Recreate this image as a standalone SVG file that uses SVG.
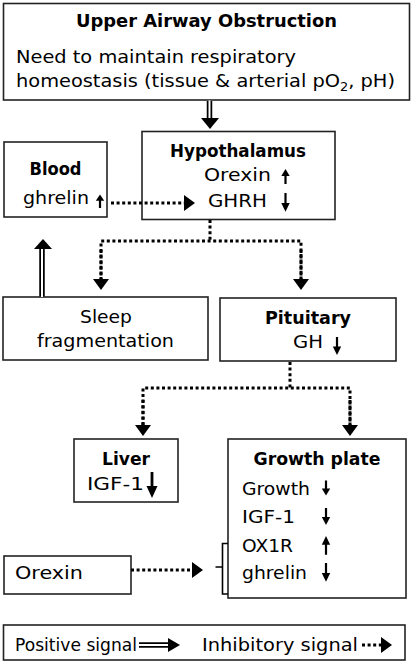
<svg xmlns="http://www.w3.org/2000/svg" width="413" height="663" viewBox="0 0 413 663">
<style>
  .box{fill:#fff;stroke:#222;stroke-width:1.6}
  text{font-family:"DejaVu Sans","Liberation Sans",sans-serif;font-size:18px;fill:#000}
  .b{font-weight:bold}
  .m{text-anchor:middle}
  .dot{fill:none;stroke:#000;stroke-width:3;stroke-dasharray:3 2.6}
  .dblo{fill:none;stroke:#000;stroke-width:5.5}
  .dbli{fill:none;stroke:#fff;stroke-width:2}
  .head{fill:#000;stroke:none}
  .sa{fill:none;stroke:#000;stroke-width:2.2}
</style>
<defs>
  <marker id="dh" markerUnits="userSpaceOnUse" markerWidth="12" markerHeight="16" refX="0" refY="8" orient="auto">
    <path d="M0,0 L11,8 L0,16 Z" fill="#000"/>
  </marker>
  <g id="up"><line x1="0" y1="15" x2="0" y2="5" class="sa"/><path d="M-4.2,7 L0,0 L4.2,7 Z" class="head"/></g>
  <g id="down"><line x1="0" y1="0" x2="0" y2="10" class="sa"/><path d="M-4.2,8 L0,15 L4.2,8 Z" class="head"/></g>
</defs>

<g id="node-upper-airway">
  <rect class="box" x="3.5" y="3.5" width="406" height="96.5"/>
  <text class="b m" x="206.5" y="27" textLength="261" lengthAdjust="spacingAndGlyphs">Upper Airway Obstruction</text>
  <text x="16" y="63" textLength="280" lengthAdjust="spacingAndGlyphs">Need to maintain respiratory</text>
  <text x="16" y="87" textLength="379" lengthAdjust="spacingAndGlyphs">homeostasis (tissue &amp; arterial pO<tspan font-size="12" dy="4">2</tspan><tspan dy="-4">, pH)</tspan></text>
</g>

<g id="node-hypothalamus">
  <rect class="box" x="142" y="131.5" width="193" height="88"/>
  <text class="b m" x="238" y="157" textLength="136" lengthAdjust="spacingAndGlyphs">Hypothalamus</text>
  <text x="204" y="181" textLength="67" lengthAdjust="spacingAndGlyphs">Orexin</text>
  <use href="#up" x="285.5" y="169"/>
  <text x="208" y="207" textLength="59" lengthAdjust="spacingAndGlyphs">GHRH</text>
  <g transform="translate(285.5,193) scale(1,1.25)"><use href="#down"/></g>
</g>

<g id="node-blood">
  <rect class="box" x="4" y="142" width="103" height="75"/>
  <text class="b m" x="55.5" y="175" textLength="52" lengthAdjust="spacingAndGlyphs">Blood</text>
  <text x="23" y="204" textLength="66" lengthAdjust="spacingAndGlyphs">ghrelin</text>
  <g transform="translate(100,194.5) scale(1,0.9)"><use href="#up"/></g>
</g>

<g id="node-sleep">
  <rect class="box" x="3" y="297" width="205" height="63"/>
  <text class="m" x="106" y="323" textLength="52" lengthAdjust="spacingAndGlyphs">Sleep</text>
  <text class="m" x="105.5" y="347" textLength="137" lengthAdjust="spacingAndGlyphs">fragmentation</text>
</g>

<g id="node-pituitary">
  <rect class="box" x="220" y="298" width="176" height="63"/>
  <text class="b m" x="308" y="324" textLength="86" lengthAdjust="spacingAndGlyphs">Pituitary</text>
  <text x="293" y="348" textLength="30" lengthAdjust="spacingAndGlyphs">GH</text>
  <g transform="translate(337,337) scale(1,1.2)"><use href="#down"/></g>
</g>

<g id="node-liver">
  <rect class="box" x="74" y="439" width="104" height="63"/>
  <text class="b m" x="126" y="465" textLength="48" lengthAdjust="spacingAndGlyphs">Liver</text>
  <text x="87" y="490" textLength="57" lengthAdjust="spacingAndGlyphs">IGF-1</text>
  <line x1="152" y1="472" x2="152" y2="488" stroke="#000" stroke-width="2.8"/>
  <path class="head" d="M146.5,486 L152,498 L157.5,486 Z"/>
</g>

<g id="node-growth-plate">
  <rect class="box" x="228" y="439" width="178" height="159"/>
  <text class="b m" x="317" y="465" textLength="127" lengthAdjust="spacingAndGlyphs">Growth plate</text>
  <text x="242" y="495" textLength="68" lengthAdjust="spacingAndGlyphs">Growth</text>
  <use href="#down" x="326" y="480.5"/>
  <text x="242" y="523" textLength="53" lengthAdjust="spacingAndGlyphs">IGF-1</text>
  <g transform="translate(326,508) scale(1,1.13)"><use href="#down"/></g>
  <text x="242" y="552" textLength="51" lengthAdjust="spacingAndGlyphs">OX1R</text>
  <g transform="translate(326,536) scale(1,1.25)"><use href="#up"/></g>
  <text x="242" y="579" textLength="65" lengthAdjust="spacingAndGlyphs">ghrelin</text>
  <g transform="translate(326,563) scale(1,1.25)"><use href="#down"/></g>
</g>

<g id="node-orexin">
  <rect class="box" x="4" y="556" width="127" height="38"/>
  <text x="15" y="579" textLength="68" lengthAdjust="spacingAndGlyphs">Orexin</text>
</g>

<g id="legend">
  <rect class="box" x="3.5" y="625" width="401.5" height="35"/>
  <text x="15" y="651" textLength="122" lengthAdjust="spacingAndGlyphs">Positive signal</text>
  <path class="dblo" d="M139,645 H169"/>
  <path class="dbli" d="M138.5,645 H169.5"/>
  <path class="head" d="M168,638 L180,645 L168,652 Z"/>
  <text x="202" y="651" textLength="156" lengthAdjust="spacingAndGlyphs">Inhibitory signal</text>
  <path class="dot" d="M362,645 H381" marker-end="url(#dh)"/>
</g>

<g id="connectors">
  <!-- top to hypothalamus (positive) -->
  <path class="dblo" d="M209.5,101 V119"/>
  <path class="dbli" d="M209.5,100.5 V119.5"/>
  <path class="head" d="M201,118 L219,118 L210,129 Z"/>
  <!-- sleep to blood (positive) -->
  <path class="dblo" d="M42,296.5 V248"/>
  <path class="dbli" d="M42,297 V247.5"/>
  <path class="head" d="M34,249 L52,249 L43,239 Z"/>
  <!-- blood to hypothalamus (inhibitory) -->
  <path class="dot" d="M111,203 H184" marker-end="url(#dh)"/>
  <!-- hypothalamus branch -->
  <path class="dot" d="M210,220 V241"/>
  <path class="dot" d="M101,280 V241 H301 V280"/>
  <path class="dot" d="M101,250 V279" marker-end="url(#dh)"/>
  <path class="dot" d="M301,250 V279" marker-end="url(#dh)"/>
  <!-- pituitary branch -->
  <path class="dot" d="M290,362 V388"/>
  <path class="dot" d="M143,425 V388 H350 V425"/>
  <path class="dot" d="M143,400 V425" marker-end="url(#dh)"/>
  <path class="dot" d="M350,400 V425" marker-end="url(#dh)"/>
  <!-- orexin to growth plate -->
  <path class="dot" d="M131,570 H192" marker-end="url(#dh)"/>
  <!-- bracket -->
  <path d="M228,543.5 H222.5 V567 H215.5 M222.5,567 V594 H228" fill="none" stroke="#000" stroke-width="1.6"/>
</g>
</svg>
